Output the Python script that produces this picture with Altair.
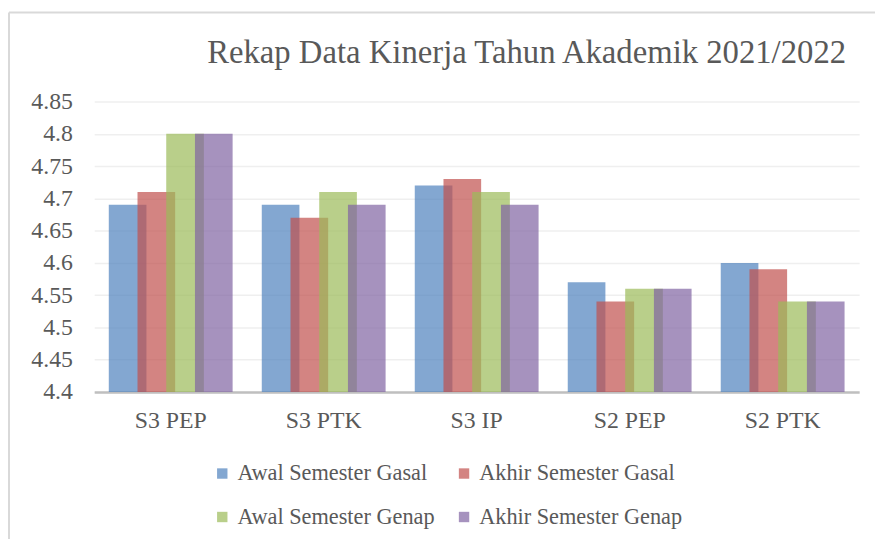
import altair as alt
import pandas as pd

categories = ["S3 PEP", "S3 PTK", "S3 IP", "S2 PEP", "S2 PTK"]
series = ["Awal Semester Gasal", "Akhir Semester Gasal", "Awal Semester Genap", "Akhir Semester Genap"]
awal_gasal = [4.69, 4.69, 4.72, 4.57, 4.60]
akhir_gasal = [4.71, 4.67, 4.73, 4.54, 4.59]
awal_genap = [4.80, 4.71, 4.71, 4.56, 4.54]
akhir_genap = [4.80, 4.69, 4.69, 4.56, 4.54]
colors = ["#4F81BD", "#C0504D", "#9BBB59", "#8064A2"]
y_ticks = [4.4, 4.45, 4.5, 4.55, 4.6, 4.65, 4.7, 4.75, 4.8, 4.85]
title_text = "Rekap Data Kinerja Tahun Akademik 2021/2022"

values_by_series = [awal_gasal, akhir_gasal, awal_genap, akhir_genap]
rows = []
for ci, cat in enumerate(categories):
    for si, s in enumerate(series):
        rows.append({"Program": cat, "Seri": s, "Nilai": values_by_series[si][ci]})
df = pd.DataFrame(rows)

FONT = "'Liberation Serif', 'Times New Roman', 'DejaVu Serif', serif"
TXT = "#595959"
W, H = 772, 293

bars = alt.Chart(df).mark_bar(width=38, fillOpacity=0.7, stroke=None).encode(
    x=alt.X("Program:N", sort=categories, title=None,
            scale=alt.Scale(paddingInner=0.249, paddingOuter=0.1245),
            axis=alt.Axis(labelAngle=0, labelFont=FONT, labelFontSize=24, labelColor=TXT,
                          labelPadding=17, ticks=False, domainColor="#BFBFBF",
                          domainWidth=2.5, grid=False)),
    xOffset=alt.XOffset("Seri:N", sort=series, scale=alt.Scale(paddingInner=0, paddingOuter=0)),
    y=alt.Y("Nilai:Q", title=None,
            scale=alt.Scale(domain=[4.4, 4.85], zero=False, nice=False),
            axis=alt.Axis(values=y_ticks, format=".2~f", labelFont=FONT, labelFontSize=24,
                          labelColor=TXT, labelPadding=22, ticks=False, domain=False,
                          gridColor="#EFEFEF", gridWidth=1.5)),
    y2=alt.Y2(datum=4.4),
    color=alt.Color("Seri:N", sort=series, scale=alt.Scale(domain=series, range=colors),
                    legend=alt.Legend(title=None, orient="none", legendX=118, legendY=364,
                                      columns=2, direction="horizontal",
                                      symbolType="square", symbolSize=110, symbolOpacity=0.7,
                                      symbolStrokeWidth=0, labelFont=FONT, labelFontSize=22.5,
                                      labelColor=TXT, labelLimit=0, rowPadding=21,
                                      columnPadding=18, labelOffset=4, padding=0)),
)

frame_data = alt.Data(values=[{"t": title_text}])
left_line = alt.Chart(frame_data).mark_rule(color="#D9D9D9", strokeWidth=2).encode(
    x=alt.value(-86), y=alt.value(-90), y2=alt.value(H + 150))
top_line = alt.Chart(frame_data).mark_rule(color="#D9D9D9", strokeWidth=2).encode(
    x=alt.value(-86), x2=alt.value(W + 20), y=alt.value(-90))
title = alt.Chart(frame_data).mark_text(
    font=FONT, fontSize=33, color=TXT, align="left", baseline="alphabetic"
).encode(text="t:N", x=alt.value(114), y=alt.value(-39))

chart = alt.layer(left_line, top_line, title, bars).properties(
    width=W, height=H,
    autosize=alt.AutoSizeParams(type="none"),
    padding={"left": 87, "top": 92, "right": 16, "bottom": 146},
).configure_view(stroke=None)

chart.save("out.html", embed_options={"renderer": "svg", "actions": False})
